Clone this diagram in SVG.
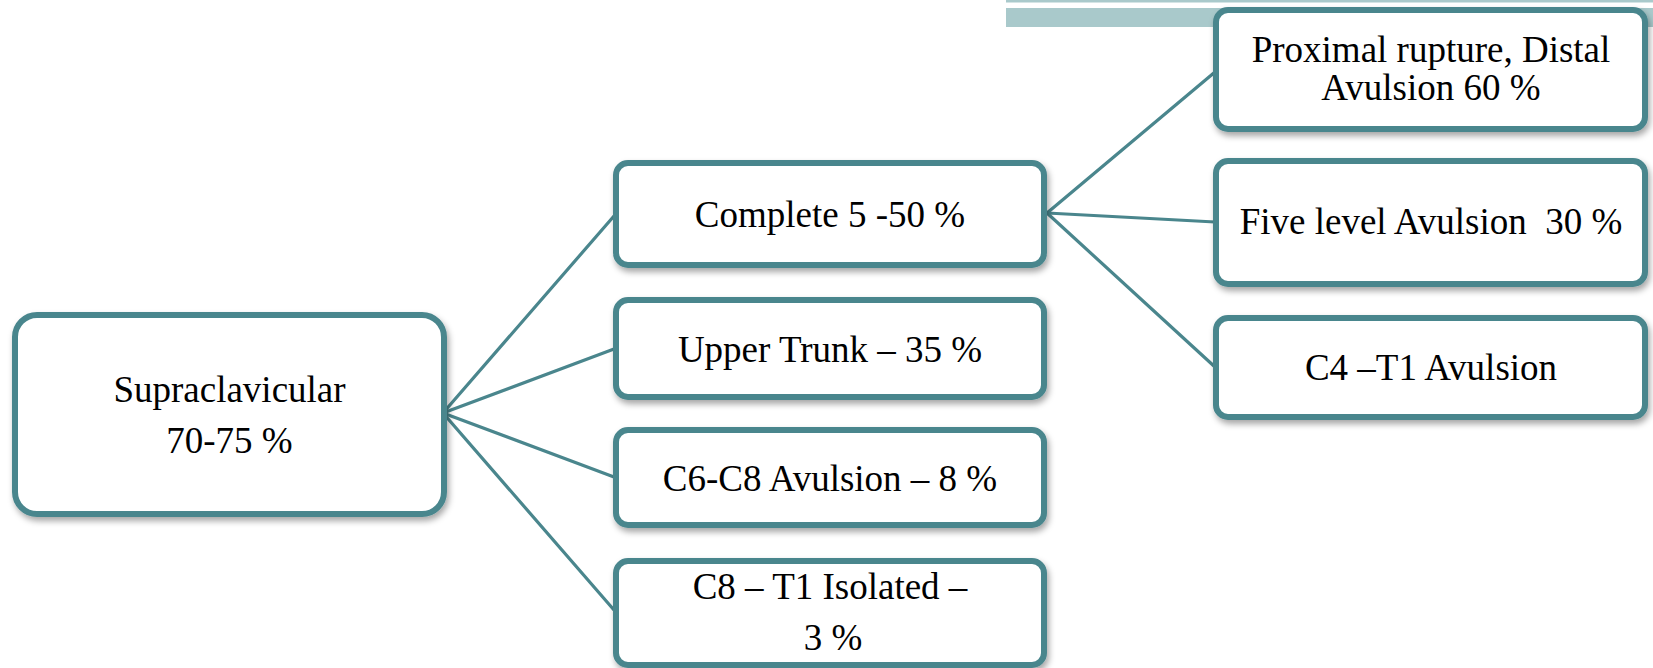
<svg xmlns="http://www.w3.org/2000/svg" width="1653" height="668" viewBox="0 0 1653 668">
  <defs>
    <filter id="sh" x="-10%" y="-10%" width="125%" height="130%">
      <feDropShadow dx="2" dy="4" stdDeviation="3" flood-color="#000" flood-opacity="0.35"/>
    </filter>
    <style>
      .box { fill: #ffffff; stroke: #4a868d; stroke-width: 6; filter: url(#sh); }
      .lbl { font-family: "Liberation Serif", "Times New Roman", serif; font-size: 37px; fill: #000; text-anchor: middle; }
      .conn { stroke: #4a868d; stroke-width: 3.2; fill: none; stroke-linecap: round; }
      .bar { fill: #a9c9cb; }
    </style>
  </defs>
  <rect width="1653" height="668" fill="#ffffff"/>
  <g id="topbar">
    <rect class="bar" x="1006" y="0" width="647" height="2.5"/>
    <rect class="bar" x="1006" y="8" width="647" height="19"/>
  </g>
  <g id="connectors">
    <line class="conn" x1="443" y1="413" x2="614" y2="216"/>
    <line class="conn" x1="443" y1="413" x2="614" y2="349"/>
    <line class="conn" x1="443" y1="413" x2="614" y2="477"/>
    <line class="conn" x1="443" y1="413" x2="614" y2="610"/>
    <line class="conn" x1="1047" y1="213" x2="1215" y2="72"/>
    <line class="conn" x1="1047" y1="213" x2="1215" y2="222"/>
    <line class="conn" x1="1047" y1="213" x2="1215" y2="367"/>
  </g>
  <g id="supraclavicular">
    <rect class="box" x="15" y="315" width="429" height="199" rx="22"/>
    <text class="lbl" x="229.5" y="402">Supraclavicular</text>
    <text class="lbl" x="229.5" y="453">70-75 %</text>
  </g>
  <g id="complete">
    <rect class="box" x="616" y="163" width="428" height="102" rx="12"/>
    <text class="lbl" x="830" y="227">Complete 5 -50 %</text>
  </g>
  <g id="upper-trunk">
    <rect class="box" x="616" y="300" width="428" height="97" rx="12"/>
    <text class="lbl" x="830" y="362">Upper Trunk – 35 %</text>
  </g>
  <g id="c6-c8">
    <rect class="box" x="616" y="430" width="428" height="95" rx="12"/>
    <text class="lbl" x="830" y="491">C6-C8 Avulsion – 8 %</text>
  </g>
  <g id="c8-t1">
    <rect class="box" x="616" y="561" width="428" height="104" rx="12"/>
    <text class="lbl" x="830" y="599">C8 – T1 Isolated –</text>
    <text class="lbl" x="833" y="650">3 %</text>
  </g>
  <g id="proximal">
    <rect class="box" x="1216" y="10" width="429" height="119" rx="12"/>
    <text class="lbl" x="1431" y="62">Proximal rupture, Distal</text>
    <text class="lbl" x="1431" y="100">Avulsion 60 %</text>
  </g>
  <g id="five-level">
    <rect class="box" x="1216" y="161" width="429" height="123" rx="12"/>
    <text class="lbl" x="1431" y="234" xml:space="preserve">Five level Avulsion  30 %</text>
  </g>
  <g id="c4-t1">
    <rect class="box" x="1216" y="318" width="429" height="99" rx="12"/>
    <text class="lbl" x="1431" y="380">C4 –T1 Avulsion</text>
  </g>
</svg>
